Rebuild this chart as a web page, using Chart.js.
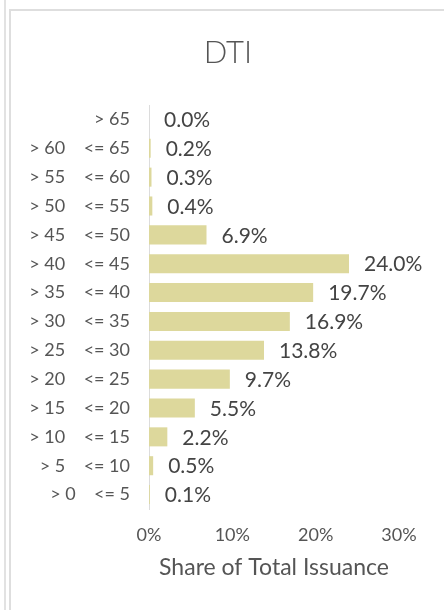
<!DOCTYPE html>
<html>
<head>
<meta charset="utf-8">
<script src="https://cdn.jsdelivr.net/npm/chart.js@4"></script>
<style>
  html, body { margin: 0; padding: 0; background: #fff; overflow: hidden; }
  #edge { position: absolute; left: 4px; top: 0; width: 2px; height: 610px; background: #e2e2e2; }
  #panel { position: absolute; left: 9px; top: 9px; width: 600px; height: 700px;
           border-left: 2px solid #dedede; border-top: 2px solid #dedede; }
  #wrap { position: absolute; left: 0; top: 0; width: 444px; height: 610px; }
</style>
</head>
<body>
<div id="edge"></div>
<div id="panel"></div>
<div id="wrap"><canvas id="dti" width="444" height="610"></canvas></div>
<script>
// DTI buckets, top to bottom
const buckets = [
    '> 65',
    '> 60    <= 65',
    '> 55    <= 60',
    '> 50    <= 55',
    '> 45    <= 50',
    '> 40    <= 45',
    '> 35    <= 40',
    '> 30    <= 35',
    '> 25    <= 30',
    '> 20    <= 25',
    '> 15    <= 20',
    '> 10    <= 15',
    '> 5    <= 10',
    '> 0    <= 5'
];

// share of total issuance (%)
const shares = [0.0, 0.2, 0.3, 0.4, 6.9, 24.0, 19.7, 16.9, 13.8, 9.7, 5.5, 2.2, 0.5, 0.1];

const xTicks = [0, 10, 20, 30];

const chartTitle = 'DTI';

const FONT = 'Lato, "Open Sans", sans-serif';

// title sits centred on the panel, not the canvas
const panelTitle = {
    id: 'panelTitle',
    afterDraw(chart) {
        const ctx = chart.ctx;
        ctx.save();
        ctx.font = '300 31px ' + FONT;
        ctx.fillStyle = '#555';
        ctx.textAlign = 'center';
        ctx.textBaseline = 'middle';
        ctx.fillText(chartTitle, 228, 53);
        ctx.restore();
    }
};

// draw the % label just right of each bar
const valueLabels = {
    id: 'valueLabels',
    afterDatasetsDraw(chart) {
        const ctx = chart.ctx;
        const meta = chart.getDatasetMeta(0);
        ctx.save();
        ctx.font = '21px ' + FONT;
        ctx.fillStyle = '#444';
        ctx.textBaseline = 'middle';
        ctx.textAlign = 'left';
        meta.data.forEach((bar, i) => {
            ctx.fillText(shares[i].toFixed(1) + '%', bar.x + 15, bar.y + 1);
        });
        ctx.restore();
    }
};

new Chart(document.getElementById('dti'), {
    type: 'bar',
    data: {
        labels: buckets,
        datasets: [{
            data: shares,
            backgroundColor: '#ddd89c',
            barPercentage: 0.66,
            categoryPercentage: 1.0
        }]
    },
    options: {
        indexAxis: 'y',
        responsive: false,
        animation: false,
        layout: { padding: { left: 0, right: 45, top: 105, bottom: 29 } },
        plugins: {
            legend: { display: false },
            tooltip: { enabled: false },
            title: { display: false }
        },
        scales: {
            x: {
                min: 0,
                max: 30,
                afterBuildTicks(scale) {
                    scale.ticks = xTicks.map(v => ({ value: v }));
                },
                afterFit(scale) { scale.height = 72; },
                grid: { display: false, drawTicks: false },
                border: { display: false },
                ticks: {
                    color: '#555',
                    font: { family: FONT, size: 18 },
                    padding: 15,
                    callback: v => v + '%'
                },
                title: {
                    display: true,
                    text: 'Share of Total Issuance',
                    color: '#555',
                    font: { family: FONT, size: 23 },
                    padding: { top: 0, bottom: 0 }
                }
            },
            y: {
                afterFit(scale) { scale.width = 149; },
                grid: { display: false, drawTicks: false },
                border: { display: true, color: '#dcdcdc', width: 1 },
                ticks: {
                    color: '#555',
                    font: { family: FONT, size: 18 },
                    padding: 19,
                    autoSkip: false
                }
            }
        }
    },
    plugins: [valueLabels, panelTitle]
});
</script>
</body>
</html>
